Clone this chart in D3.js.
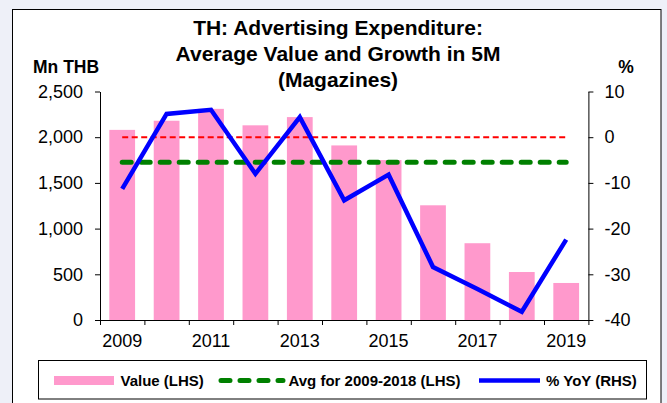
<!DOCTYPE html>
<html>
<head>
<meta charset="utf-8">
<script src="https://cdn.jsdelivr.net/npm/d3@7"></script>
<style>
  body { margin: 0; background: #eef0f8; }
  svg { display: block; font-family: "Liberation Sans", Arial, sans-serif; }
</style>
</head>
<body>
<div class="chart"></div>
<script>
// values
var years = [2009, 2010, 2011, 2012, 2013, 2014, 2015, 2016, 2017, 2018, 2019];
var values = [2080, 2180, 2310, 2130, 2220, 1910, 1750, 1255, 840, 525, 405]; // Mn THB
var yoy = [-11.3, 5.1, 6.0, -8.0, 4.4, -13.8, -8.2, -28.4, -33.2, -38.2, -22.4]; // %
var avg0918 = 1725;
var leftTicks = [0, 500, 1000, 1500, 2000, 2500];
var rightTicks = [10, 0, -10, -20, -30, -40];
var yearLabels = [2009, 2011, 2013, 2015, 2017, 2019];
var titleLines = ['TH: Advertising Expenditure:', 'Average Value and Growth in 5M', '(Magazines)'];
var legendItems = ['Value (LHS)', 'Avg for 2009-2018 (LHS)', '% YoY (RHS)'];

var data = years.map((yr, i) => { return { year: yr, value: values[i], yoy: yoy[i] }; });

var W = 667, H = 403;
var plot = { left: 100, right: 588.4, top: 91.5, bottom: 320 };

var svg = d3.select('.chart').append('svg')
    .attr('width', W)
    .attr('height', H);

// white chart area with frame
svg.append('rect')
    .attr('x', 12.5).attr('y', 9.5)
    .attr('width', 648.5).attr('height', 420)
    .attr('fill', '#fff')
    .attr('stroke', '#000')
    .attr('stroke-width', 1);

// scales
var x = d3.scaleBand()
    .domain(years)
    .range([plot.left, plot.right])
    .padding(0);
var xIdx = d3.scaleLinear()
    .domain([0, years.length])
    .range([plot.left, plot.right]);
var y1 = d3.scaleLinear().domain([0, 2500]).range([plot.bottom, plot.top]);
var y2 = d3.scaleLinear().domain([-40, 10]).range([plot.bottom, plot.top]);

var cx = (d) => { return x(d) + x.bandwidth() / 2; };
var barW = x.bandwidth() * 0.58;

// bars
svg.selectAll('.bar')
    .data(data)
    .enter().append('rect')
    .attr('class', 'bar')
    .attr('x', (d) => { return cx(d.year) - barW / 2; })
    .attr('width', barW)
    .attr('y', (d) => { return y1(d.value); })
    .attr('height', (d) => { return y1(0) - y1(d.value); })
    .attr('fill', '#ff99cc');

// zero line (RHS)
svg.append('line')
    .attr('x1', cx(years[0])).attr('x2', cx(years[years.length - 1]))
    .attr('y1', y2(0)).attr('y2', y2(0))
    .attr('stroke', '#ff0000')
    .attr('stroke-width', 2)
    .attr('stroke-dasharray', '6,3.5');

// average line (LHS)
svg.append('line')
    .attr('x1', cx(years[0])).attr('x2', cx(years[years.length - 1]))
    .attr('y1', y1(avg0918)).attr('y2', y1(avg0918))
    .attr('stroke', '#008000')
    .attr('stroke-width', 5)
    .attr('stroke-linecap', 'round')
    .attr('stroke-dasharray', '9,10');

// % YoY line
var line = d3.line()
    .x((d) => { return cx(d.year); })
    .y((d) => { return y2(d.yoy); });
svg.append('path')
    .datum(data)
    .attr('d', line)
    .attr('fill', 'none')
    .attr('stroke', '#0000ff')
    .attr('stroke-width', 4.5)
    .attr('stroke-linejoin', 'miter');

// axes
var axisFont = (g) => {
    g.selectAll('text')
        .attr('font-size', 18)
        .attr('fill', '#000')
        .attr('font-family', '"Liberation Sans", Arial, sans-serif');
    g.selectAll('path, line').attr('stroke', '#000');
};

svg.append('g')
    .attr('transform', `translate(${plot.left}, 0)`)
    .call(d3.axisLeft(y1).tickValues(leftTicks).tickFormat(d3.format(','))
        .tickSize(5).tickSizeOuter(0).tickPadding(12))
    .call(axisFont);

svg.append('g')
    .attr('transform', `translate(${plot.right}, 0)`)
    .call(d3.axisRight(y2).tickValues(rightTicks).tickFormat((d) => { return String(d); })
        .tickSize(5).tickSizeOuter(0).tickPadding(11))
    .call(axisFont);

// x axis: ticks between categories
svg.append('g')
    .attr('transform', `translate(0, ${plot.bottom})`)
    .call(d3.axisBottom(xIdx).tickValues(d3.range(0, years.length + 1))
        .tickFormat('').tickSize(5).tickSizeOuter(0))
    .call(axisFont);

// x axis labels
svg.append('g')
    .attr('transform', `translate(0, ${plot.bottom})`)
    .call(d3.axisBottom(x).tickValues(yearLabels).tickSize(0).tickPadding(14))
    .call(axisFont)
    .call((g) => { g.select('.domain').remove(); });

// title
svg.append('text')
    .attr('text-anchor', 'middle')
    .attr('font-size', 21)
    .attr('font-weight', 'bold')
    .selectAll('tspan')
    .data(titleLines)
    .enter().append('tspan')
    .attr('x', 338)
    .attr('y', (d, i) => { return 35 + i * 26; })
    .text((d) => { return d; });

// axis units
svg.append('text')
    .attr('x', 33).attr('y', 73)
    .attr('font-size', 17.5).attr('font-weight', 'bold')
    .text('Mn THB');
svg.append('text')
    .attr('x', 626).attr('y', 73)
    .attr('text-anchor', 'middle')
    .attr('font-size', 17.5).attr('font-weight', 'bold')
    .text('%');

// legend
var lg = svg.append('g');
lg.append('rect')
    .attr('x', 38.5).attr('y', 360.5)
    .attr('width', 608).attr('height', 38.5)
    .attr('fill', '#fff')
    .attr('stroke', '#000');

var ly = 380.5;
lg.append('rect')
    .attr('x', 54).attr('y', ly - 4.5)
    .attr('width', 60).attr('height', 9)
    .attr('fill', '#ff99cc');
lg.append('line')
    .attr('x1', 221).attr('x2', 283)
    .attr('y1', ly).attr('y2', ly)
    .attr('stroke', '#008000').attr('stroke-width', 5)
    .attr('stroke-linecap', 'round')
    .attr('stroke-dasharray', '9,10');
lg.append('line')
    .attr('x1', 479).attr('x2', 540)
    .attr('y1', ly).attr('y2', ly)
    .attr('stroke', '#0000ff').attr('stroke-width', 4.5);

var legendX = [120.5, 288.5, 546];
lg.selectAll('.lgtext')
    .data(legendItems)
    .enter().append('text')
    .attr('class', 'lgtext')
    .attr('x', (d, i) => { return legendX[i]; })
    .attr('y', ly + 5.5)
    .attr('font-size', 15)
    .attr('font-weight', 'bold')
    .text((d) => { return d; });
</script>
</body>
</html>
